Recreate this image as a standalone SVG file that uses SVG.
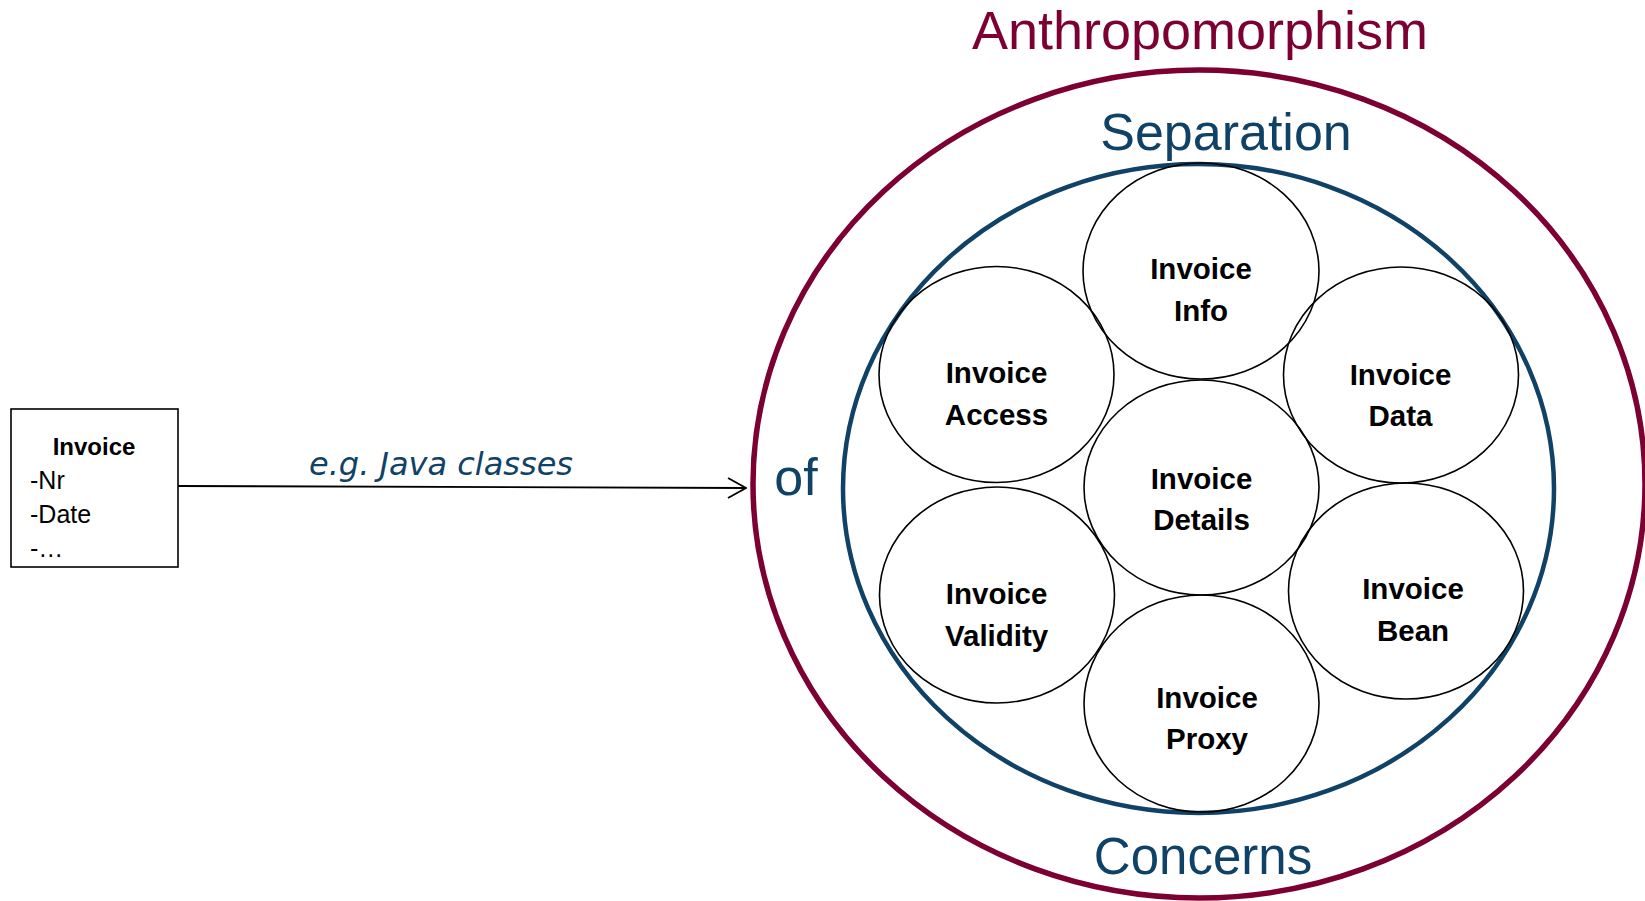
<svg xmlns="http://www.w3.org/2000/svg" width="1645" height="901" viewBox="0 0 1645 901">
<style>
.big{font-family:"Liberation Sans",Arial,sans-serif;font-size:52px;text-anchor:middle}
.blue{fill:#0f4266}
.maroon{fill:#7d0033}
.lbl{font-family:"Liberation Sans",Arial,sans-serif;font-size:29.5px;font-weight:bold;text-anchor:middle;fill:#000}
.node{fill:none;stroke:#000;stroke-width:1.6}
.cls{font-family:"Liberation Sans",Arial,sans-serif;font-size:25px;fill:#000}
</style>
<defs>
<marker id="arr" viewBox="0 0 20 22" refX="19" refY="11" markerWidth="20" markerHeight="22" markerUnits="userSpaceOnUse" orient="auto">
<path d="M1,1 L19,11 L1,21" fill="none" stroke="#000" stroke-width="1.8"/>
</marker>
</defs>
<rect width="1645" height="901" fill="#fff"/>

<g id="outer">
<ellipse cx="1199" cy="484" rx="446" ry="414" fill="none" stroke="#7d0033" stroke-width="5.5"/>
<text class="big maroon" x="1200" y="49" style="font-size:54px">Anthropomorphism</text>
</g>

<g id="inner">
<ellipse cx="1198.5" cy="488.5" rx="355.5" ry="324.5" fill="none" stroke="#0f4266" stroke-width="4.5"/>
<text class="big blue" x="1226" y="150">Separation</text>
<text class="big blue" x="796" y="495">of</text>
<text class="big blue" x="1203" y="874" style="font-size:51px">Concerns</text>
</g>

<g id="class-box">
<rect x="11" y="409" width="167" height="158" fill="#fff" stroke="#000" stroke-width="1.6"/>
<text x="94" y="455" class="cls" style="font-weight:bold;font-size:24px;text-anchor:middle">Invoice</text>
<text x="30" y="489" class="cls">-Nr</text>
<text x="30" y="523" class="cls">-Date</text>
<text x="30" y="557" class="cls">-…</text>
</g>

<g id="connectors">
<line x1="178" y1="486" x2="746" y2="488" stroke="#000" stroke-width="1.8" marker-end="url(#arr)"/>
<text x="441" y="475" style="font-family:'DejaVu Sans',Verdana,sans-serif;font-style:italic;font-size:32px;text-anchor:middle" class="blue">e.g. Java classes</text>
</g>

<g id="invoice-info">
<ellipse class="node" cx="1201" cy="271" rx="118" ry="108"/>
<text class="lbl" x="1201" y="279">Invoice</text>
<text class="lbl" x="1201" y="321">Info</text>
</g>
<g id="invoice-access">
<ellipse class="node" cx="996.5" cy="374.5" rx="117.5" ry="108"/>
<text class="lbl" x="996.5" y="383">Invoice</text>
<text class="lbl" x="996.5" y="425">Access</text>
</g>
<g id="invoice-data">
<ellipse class="node" cx="1401" cy="375" rx="117.5" ry="108"/>
<text class="lbl" x="1400.5" y="385">Invoice</text>
<text class="lbl" x="1400.5" y="426">Data</text>
</g>
<g id="invoice-details">
<ellipse class="node" cx="1201.5" cy="487.5" rx="117.5" ry="107.5"/>
<text class="lbl" x="1201.5" y="489">Invoice</text>
<text class="lbl" x="1201.5" y="530">Details</text>
</g>
<g id="invoice-validity">
<ellipse class="node" cx="997" cy="595" rx="117.5" ry="108"/>
<text class="lbl" x="996.6" y="604">Invoice</text>
<text class="lbl" x="996.6" y="646">Validity</text>
</g>
<g id="invoice-bean">
<ellipse class="node" cx="1406" cy="591" rx="117.5" ry="108"/>
<text class="lbl" x="1413" y="599">Invoice</text>
<text class="lbl" x="1413" y="641">Bean</text>
</g>
<g id="invoice-proxy">
<ellipse class="node" cx="1201.5" cy="703.5" rx="117.5" ry="108.5"/>
<text class="lbl" x="1207" y="708">Invoice</text>
<text class="lbl" x="1207" y="749">Proxy</text>
</g>
</svg>
